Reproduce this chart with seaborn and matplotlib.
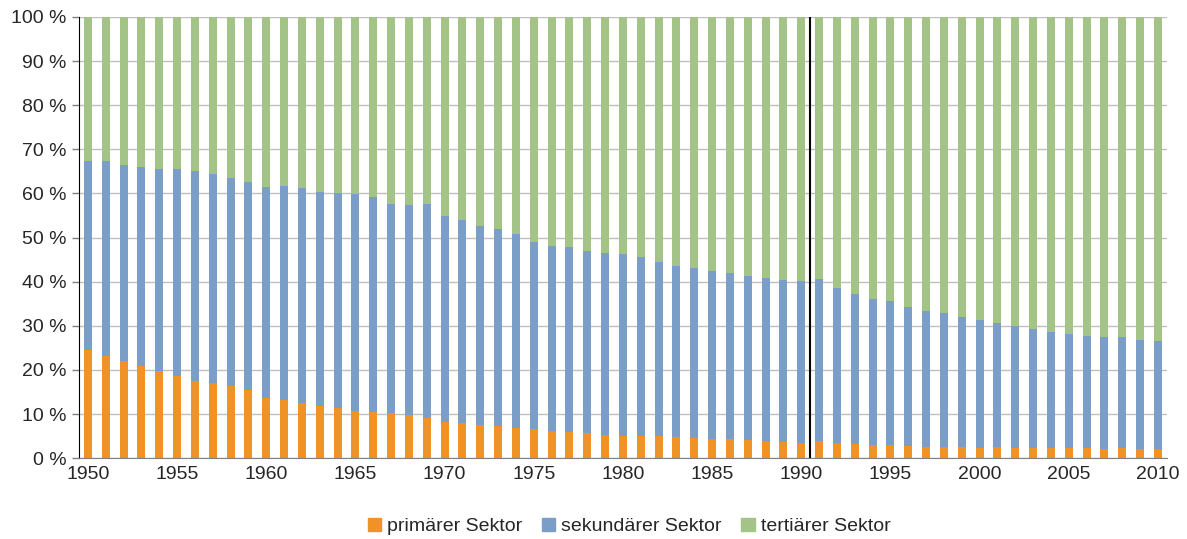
import numpy as np
import pandas as pd
import seaborn as sns
import matplotlib.pyplot as plt
from matplotlib.patches import Patch

jahre = list(range(1950, 2011))

primaer = [24.5, 23.2, 22.0, 20.9, 19.7, 18.6, 17.5, 17.0, 16.4, 15.5,
           13.7, 13.2, 12.5, 11.9, 11.4, 10.7, 10.4, 10.2, 9.7, 9.1,
           8.3, 7.9, 7.5, 7.3, 6.8, 6.6, 6.1, 5.9, 5.7, 5.2,
           5.1, 5.1, 5.1, 4.8, 4.5, 4.3, 4.3, 4.1, 3.8, 3.6,
           3.4, 3.8, 3.4, 3.2, 2.9, 2.9, 2.7, 2.5, 2.5, 2.5,
           2.3, 2.5, 2.3, 2.3, 2.3, 2.3, 2.3, 2.0, 2.3, 2.0,
           2.0]

sekundaer = [42.8, 44.1, 44.4, 45.1, 45.8, 46.9, 47.6, 47.4, 47.1, 47.1,
             47.8, 48.5, 48.7, 48.4, 48.7, 49.2, 48.8, 47.4, 47.7, 48.5,
             46.6, 46.1, 45.1, 44.6, 44.0, 42.4, 42.0, 41.9, 41.2, 41.3,
             41.2, 40.5, 39.3, 38.7, 38.6, 38.1, 37.7, 37.2, 37.0, 36.8,
             36.7, 36.8, 35.1, 34.0, 33.2, 32.7, 31.5, 30.8, 30.4, 29.5,
             29.0, 28.1, 27.6, 27.0, 26.3, 25.8, 25.4, 25.4, 25.1, 24.8,
             24.5]

tertiaer = [round(100 - p - s, 1) for p, s in zip(primaer, sekundaer)]

labels = ['primärer Sektor', 'sekundärer Sektor', 'tertiärer Sektor']
farben = ['#EF9326', '#7B9EC9', '#A4C386']

df = pd.DataFrame({'Jahr': jahre, 'prim': primaer, 'sek': sekundaer, 'tert': tertiaer})
df['stufe1'] = df['prim']
df['stufe2'] = df['prim'] + df['sek']
df['stufe3'] = df['stufe2'] + df['tert']

sns.set_style('white')
plt.rcParams['font.family'] = ['Liberation Sans', 'DejaVu Sans']

fig = plt.figure(figsize=(11.87, 5.39), dpi=100)
ax = fig.add_axes([0.0666, 0.150, 0.9164, 0.8185])

for spalte, farbe in zip(['stufe3', 'stufe2', 'stufe1'], farben[::-1]):
    sns.barplot(data=df, x='Jahr', y=spalte, color=farbe, width=0.45,
                saturation=1, errorbar=None, linewidth=0, ax=ax, zorder=2)

ax.set_ylim(0, 100)
ax.set_xlim(-0.5, len(jahre) - 0.5)
ax.set_yticks(np.arange(0, 101, 10))
ax.set_yticklabels([f'{v} %' for v in range(0, 101, 10)], fontsize=14)
ax.yaxis.grid(True, color='#C0C0C0', linewidth=1, zorder=0)
ax.set_axisbelow(True)

pos = [i for i, j in enumerate(jahre) if j % 5 == 0]
ax.set_xticks(pos)
ax.set_xticklabels([str(jahre[i]) for i in pos], fontsize=14)
ax.set_xticks(np.arange(-0.5, len(jahre), 1), minor=True)
ax.tick_params(axis='x', which='major', length=0, pad=6)
ax.tick_params(axis='x', which='minor', length=5, color='#808080', width=1)
ax.tick_params(axis='y', length=5, color='#808080', width=1, left=True, pad=4)

ax.axvline(jahre.index(1990) + 0.5, color='black', linewidth=1.5, zorder=3)

for s in ['top', 'right']:
    ax.spines[s].set_visible(False)
ax.spines['left'].set_color('black')
ax.spines['bottom'].set_color('#808080')
ax.set_xlabel('')
ax.set_ylabel('')

handles = [Patch(color=c, label=l) for c, l in zip(farben, labels)]
fig.legend(handles=handles, loc='center', bbox_to_anchor=(0.53, 0.023),
           ncol=3, frameon=False, fontsize=14, handlelength=0.7,
           handleheight=0.7, handletextpad=0.3, columnspacing=1.0)

fig.savefig('out.png', dpi=100)
